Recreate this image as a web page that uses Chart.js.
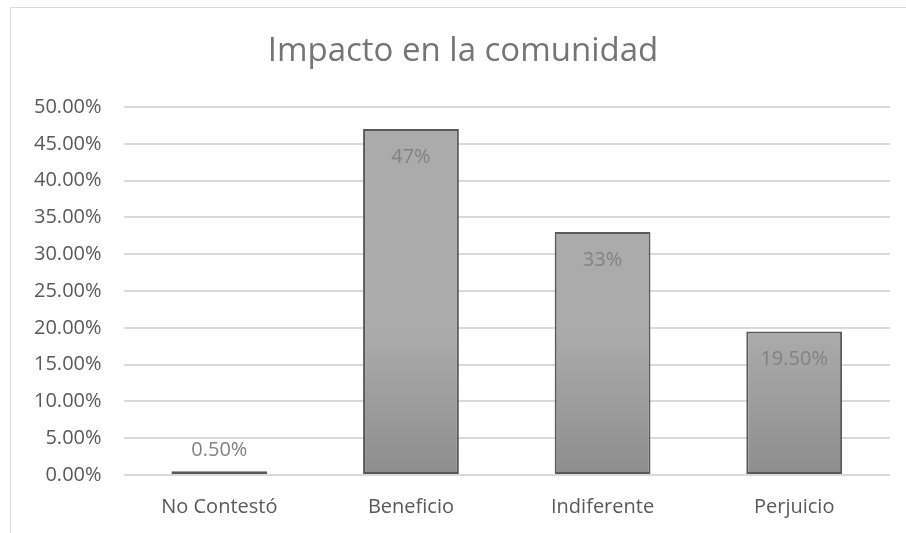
<!DOCTYPE html>
<html>
<head>
<meta charset="utf-8">
<script src="https://cdn.jsdelivr.net/npm/chart.js@4"></script>
<style>
html,body{margin:0;padding:0;background:#fff;}
#wrap{position:relative;width:906px;height:533px;}
#frame{position:absolute;left:10px;top:7px;right:-2px;bottom:-2px;border:1px solid #d9d9d9;}
canvas{position:absolute;left:0;top:0;}
</style>
</head>
<body>
<div id="wrap">
<div id="frame"></div>
<canvas id="c" width="906" height="533"></canvas>
</div>
<script>
const chartTitle = "Impacto en la comunidad";
const categories = ["No Contestó", "Beneficio", "Indiferente", "Perjuicio"];
const values = [0.5, 47, 33, 19.5];
const valueLabels = ["0.50%", "47%", "33%", "19.50%"];
const yTicks = [0, 5, 10, 15, 20, 25, 30, 35, 40, 45, 50];

const FONT = "'Open Sans', 'Liberation Sans', sans-serif";

const gradientPlugin = {
  id: 'barGradient',
  beforeDatasetsDraw(chart) {
    const ctx = chart.ctx;
    const meta = chart.getDatasetMeta(0);
    meta.data.forEach(el => {
      const top = Math.min(el.y, el.base), bot = Math.max(el.y, el.base);
      const g = ctx.createLinearGradient(0, top, 0, bot + 0.01);
      g.addColorStop(0, '#ababab');
      g.addColorStop(1, '#8e8e8e');
      el.options.backgroundColor = g;
    });
  }
};

const labelPlugin = {
  id: 'valLabels',
  afterDatasetsDraw(chart) {
    const ctx = chart.ctx;
    const meta = chart.getDatasetMeta(0);
    ctx.save();
    ctx.font = "20px " + FONT;
    ctx.fillStyle = '#828282';
    ctx.textAlign = 'center';
    ctx.textBaseline = 'middle';
    meta.data.forEach((el, i) => {
      const h = el.base - el.y;
      const y = h > 40 ? el.y + 28 : el.y - 21;
      ctx.fillText(valueLabels[i], el.x, y);
    });
    ctx.restore();
  }
};

const titlePlugin = {
  id: 'centerTitle',
  afterDraw(chart) {
    const ctx = chart.ctx;
    ctx.save();
    ctx.font = "33px " + FONT;
    ctx.fillStyle = '#757575';
    ctx.textAlign = 'center';
    ctx.textBaseline = 'middle';
    ctx.fillText(chartTitle, 463, 52);
    ctx.restore();
  }
};

new Chart(document.getElementById('c'), {
  type: 'bar',
  data: {
    labels: categories,
    datasets: [{
      data: values,
      backgroundColor: '#9c9c9c',
      borderColor: '#5a5a5a',
      borderWidth: 2,
      borderSkipped: false,
      barPercentage: 0.5,
      categoryPercentage: 1.0
    }]
  },
  options: {
    responsive: false,
    animation: false,
    devicePixelRatio: 1,
    layout: { padding: { left: 12, right: 16, top: 107, bottom: -6 } },
    plugins: {
      legend: { display: false },
      tooltip: { enabled: false },
      title: { display: false }
    },
    scales: {
      x: {
        grid: { display: false, drawTicks: false },
        border: { display: false },
        ticks: { color: '#595959', font: { family: FONT, size: 20 }, padding: 20 }
      },
      y: {
        min: 0, max: 50,
        afterBuildTicks(scale) { scale.ticks = yTicks.map(v => ({ value: v })); },
        grid: { color: '#d9d9d9', lineWidth: 2, drawTicks: false },
        border: { display: false },
        ticks: {
          color: '#595959',
          font: { family: FONT, size: 20 },
          padding: 22,
          callback: v => v.toFixed(2) + '%'
        }
      }
    }
  },
  plugins: [gradientPlugin, labelPlugin, titlePlugin]
});
</script>
</body>
</html>
